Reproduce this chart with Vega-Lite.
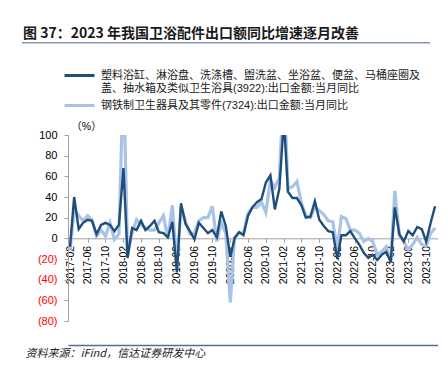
{
  "$schema": "https://vega.github.io/schema/vega-lite/v6.json",
  "background": "white",
  "padding": {"left": 22, "top": 27, "right": 0, "bottom": 0},
  "spacing": 20,
  "config": {
    "font": "Liberation Sans, Noto Sans CJK SC",
    "view": {"stroke": null}
  },
  "resolve": {"scale": {"color": "independent"}, "legend": {"color": "independent"}},
  "vconcat": [
    {
      "width": 408,
      "height": 1.5,
      "title": {
        "text": "图 37：2023 年我国卫浴配件出口额同比增速逐月改善",
        "anchor": "start",
        "fontSize": 14,
        "fontWeight": "bold",
        "font": "Noto Sans CJK SC",
        "color": "#1a1a1a",
        "baseline": "bottom",
        "offset": -13,
        "dx": 1
      },
      "data": {"values": [{"part": "heading underline"}]},
      "mark": {"type": "rect", "color": "#8497b8"},
      "encoding": {}
    },
    {
      "spacing": 2,
      "resolve": {"scale": {"color": "independent"}, "legend": {"color": "independent"}},
      "hconcat": [
        {
          "width": 1,
          "height": 1,
          "data": {"values": []},
          "mark": "rule",
          "encoding": {}
        },
        {
          "width": 370,
          "height": 186,
          "resolve": {"axis": {"x": "independent"}},
          "encoding": {
            "y": {
              "field": "v",
              "type": "quantitative",
              "scale": {"domain": [-80, 100], "nice": false},
              "axis": {
                "values": [-80, -60, -40, -20, 0, 20, 40, 60, 80, 100],
                "title": "（%）",
                "titleAngle": 0,
                "titleX": 18,
                "titleY": -4,
                "titleAlign": "center",
                "titleBaseline": "bottom",
                "titleFontWeight": "normal",
                "titleFontSize": 10.5,
                "titleColor": "#000000",
                "labelExpr": "datum.value < 0 ? '(' + abs(datum.value) + ')' : datum.label",
                "labelColor": {"condition": {"test": "datum.value < 0", "value": "#ff0000"}, "value": "#000000"},
                "labelFontSize": 11,
                "labelPadding": 7,
                "grid": false,
                "domainColor": "#a0a0a0",
                "tickColor": "#a0a0a0",
                "tickSize": 4
              }
            }
          },
          "layer": [
            {
              "data": {
                "values": [
                  {"m": "2017-02", "v": -12}, {"m": "2017-03", "v": 28}, {"m": "2017-04", "v": 22}, {"m": "2017-05", "v": 17}, {"m": "2017-06", "v": 22}, {"m": "2017-07", "v": 18}, {"m": "2017-08", "v": 2}, {"m": "2017-09", "v": 8}, {"m": "2017-10", "v": 2}, {"m": "2017-11", "v": 15}, {"m": "2017-12", "v": -1},
                  {"m": "2018-01", "v": 4}, {"m": "2018-02", "v": 160}, {"m": "2018-03", "v": -15}, {"m": "2018-04", "v": 5}, {"m": "2018-05", "v": 18}, {"m": "2018-06", "v": 13}, {"m": "2018-07", "v": 10}, {"m": "2018-08", "v": 8}, {"m": "2018-09", "v": 8}, {"m": "2018-10", "v": 15}, {"m": "2018-11", "v": 22}, {"m": "2018-12", "v": 0},
                  {"m": "2019-01", "v": 32}, {"m": "2019-02", "v": -28}, {"m": "2019-03", "v": 30}, {"m": "2019-04", "v": 16}, {"m": "2019-05", "v": 4}, {"m": "2019-06", "v": 5}, {"m": "2019-07", "v": 17}, {"m": "2019-08", "v": 20}, {"m": "2019-09", "v": 20}, {"m": "2019-10", "v": 31}, {"m": "2019-11", "v": -3}, {"m": "2019-12", "v": 15},
                  {"m": "2020-01", "v": 5}, {"m": "2020-02", "v": -62}, {"m": "2020-03", "v": 1}, {"m": "2020-04", "v": 5}, {"m": "2020-05", "v": 5}, {"m": "2020-06", "v": 24}, {"m": "2020-07", "v": 30}, {"m": "2020-08", "v": 30}, {"m": "2020-09", "v": 35}, {"m": "2020-10", "v": 25}, {"m": "2020-11", "v": 56}, {"m": "2020-12", "v": 49},
                  {"m": "2021-01", "v": 59}, {"m": "2021-02", "v": 150}, {"m": "2021-03", "v": 48}, {"m": "2021-04", "v": 50}, {"m": "2021-05", "v": 55}, {"m": "2021-06", "v": 34}, {"m": "2021-07", "v": 22}, {"m": "2021-08", "v": 20}, {"m": "2021-09", "v": 30}, {"m": "2021-10", "v": 27}, {"m": "2021-11", "v": 23}, {"m": "2021-12", "v": 17},
                  {"m": "2022-01", "v": 16}, {"m": "2022-02", "v": -10}, {"m": "2022-03", "v": 21}, {"m": "2022-04", "v": 19}, {"m": "2022-05", "v": 8}, {"m": "2022-06", "v": 8}, {"m": "2022-07", "v": 5}, {"m": "2022-08", "v": -3}, {"m": "2022-09", "v": 0}, {"m": "2022-10", "v": -3}, {"m": "2022-11", "v": -16}, {"m": "2022-12", "v": -13},
                  {"m": "2023-01", "v": -8}, {"m": "2023-02", "v": -22}, {"m": "2023-03", "v": 46}, {"m": "2023-04", "v": 3}, {"m": "2023-05", "v": -3}, {"m": "2023-06", "v": -11}, {"m": "2023-07", "v": -6}, {"m": "2023-08", "v": 1}, {"m": "2023-09", "v": -6}, {"m": "2023-10", "v": -7}, {"m": "2023-11", "v": 5}, {"m": "2023-12", "v": 10}
                ],
                "format": {"parse": {"m": "date:'%Y-%m'"}}
              },
              "mark": {"type": "line", "clip": true, "strokeWidth": 3.2},
              "encoding": {
                "x": {
                  "field": "m",
                  "type": "temporal",
                  "scale": {"domain": [{"year": 2017, "month": 1, "date": 18}, {"year": 2023, "month": 12, "date": 21}]},
                  "axis": {
                    "title": null,
                    "offset": -82.7,
                    "format": "%Y-%m",
                    "labelAngle": -90,
                    "labelFontSize": 10.5,
                    "labelColor": "#000000",
                    "labelPadding": 3,
                    "domainColor": "#a0a0a0",
                    "tickColor": "#a0a0a0",
                    "tickSize": 4,
                    "grid": false,
                    "values": [
                      {"year": 2017, "month": 2, "date": 1}, {"year": 2017, "month": 6, "date": 1}, {"year": 2017, "month": 10, "date": 1},
                      {"year": 2018, "month": 2, "date": 1}, {"year": 2018, "month": 6, "date": 1}, {"year": 2018, "month": 10, "date": 1},
                      {"year": 2019, "month": 2, "date": 1}, {"year": 2019, "month": 6, "date": 1}, {"year": 2019, "month": 10, "date": 1},
                      {"year": 2020, "month": 2, "date": 1}, {"year": 2020, "month": 6, "date": 1}, {"year": 2020, "month": 10, "date": 1},
                      {"year": 2021, "month": 2, "date": 1}, {"year": 2021, "month": 6, "date": 1}, {"year": 2021, "month": 10, "date": 1},
                      {"year": 2022, "month": 2, "date": 1}, {"year": 2022, "month": 6, "date": 1}, {"year": 2022, "month": 10, "date": 1},
                      {"year": 2023, "month": 2, "date": 1}, {"year": 2023, "month": 6, "date": 1}, {"year": 2023, "month": 10, "date": 1}
                    ]
                  }
                },
                "color": {
                  "datum": "钢铁制卫生器具及其零件(7324):出口金额:当月同比",
                  "type": "nominal"
                }
              }
            },
            {
              "data": {
                "values": [
                  {"m": "2017-02", "v": -8}, {"m": "2017-03", "v": 40}, {"m": "2017-04", "v": 9}, {"m": "2017-05", "v": 15}, {"m": "2017-06", "v": 18}, {"m": "2017-07", "v": 17}, {"m": "2017-08", "v": 4}, {"m": "2017-09", "v": 13}, {"m": "2017-10", "v": 15}, {"m": "2017-11", "v": 13}, {"m": "2017-12", "v": 7},
                  {"m": "2018-01", "v": 13}, {"m": "2018-02", "v": 68}, {"m": "2018-03", "v": -19}, {"m": "2018-04", "v": 10}, {"m": "2018-05", "v": 8}, {"m": "2018-06", "v": 17}, {"m": "2018-07", "v": 8}, {"m": "2018-08", "v": 12}, {"m": "2018-09", "v": 17}, {"m": "2018-10", "v": 6}, {"m": "2018-11", "v": 5}, {"m": "2018-12", "v": 1},
                  {"m": "2019-01", "v": 16}, {"m": "2019-02", "v": -33}, {"m": "2019-03", "v": 34}, {"m": "2019-04", "v": 14}, {"m": "2019-05", "v": 7}, {"m": "2019-06", "v": -1}, {"m": "2019-07", "v": 15}, {"m": "2019-08", "v": 10}, {"m": "2019-09", "v": 5}, {"m": "2019-10", "v": 8}, {"m": "2019-11", "v": 1}, {"m": "2019-12", "v": 26},
                  {"m": "2020-01", "v": 12}, {"m": "2020-02", "v": -18}, {"m": "2020-03", "v": 0}, {"m": "2020-04", "v": 6}, {"m": "2020-05", "v": 3}, {"m": "2020-06", "v": 22}, {"m": "2020-07", "v": 30}, {"m": "2020-08", "v": 35}, {"m": "2020-09", "v": 38}, {"m": "2020-10", "v": 54}, {"m": "2020-11", "v": 61}, {"m": "2020-12", "v": 28},
                  {"m": "2021-01", "v": 48}, {"m": "2021-02", "v": 115}, {"m": "2021-03", "v": 45}, {"m": "2021-04", "v": 39}, {"m": "2021-05", "v": 39}, {"m": "2021-06", "v": 32}, {"m": "2021-07", "v": 20}, {"m": "2021-08", "v": 21}, {"m": "2021-09", "v": 36}, {"m": "2021-10", "v": 18}, {"m": "2021-11", "v": 12}, {"m": "2021-12", "v": 7},
                  {"m": "2022-01", "v": 6}, {"m": "2022-02", "v": -20}, {"m": "2022-03", "v": 3}, {"m": "2022-04", "v": 3}, {"m": "2022-05", "v": 7}, {"m": "2022-06", "v": 0}, {"m": "2022-07", "v": -6}, {"m": "2022-08", "v": -14}, {"m": "2022-09", "v": -19}, {"m": "2022-10", "v": -16}, {"m": "2022-11", "v": -21}, {"m": "2022-12", "v": -16},
                  {"m": "2023-01", "v": -13}, {"m": "2023-02", "v": -23}, {"m": "2023-03", "v": 30}, {"m": "2023-04", "v": 4}, {"m": "2023-05", "v": -3}, {"m": "2023-06", "v": 7}, {"m": "2023-07", "v": 3}, {"m": "2023-08", "v": 11}, {"m": "2023-09", "v": 9}, {"m": "2023-10", "v": -3}, {"m": "2023-11", "v": 15}, {"m": "2023-12", "v": 31}
                ],
                "format": {"parse": {"m": "date:'%Y-%m'"}}
              },
              "mark": {"type": "line", "clip": true, "strokeWidth": 2.4},
              "encoding": {
                "x": {
                  "field": "m",
                  "type": "temporal",
                  "axis": {
                    "orient": "bottom",
                    "offset": 24,
                    "labels": false,
                    "ticks": false,
                    "grid": false,
                    "domainColor": "#4f6fa3",
                    "domainWidth": 1.5,
                    "title": "资料来源：iFind，信达证券研发中心",
                    "titleX": -43,
                    "titleY": 2.5,
                    "titleAlign": "left",
                    "titleBaseline": "top",
                    "titleAngle": 0,
                    "titleFont": "Noto Sans CJK SC",
                    "titleFontSize": 11,
                    "titleFontStyle": "italic",
                    "titleFontWeight": "normal",
                    "titleColor": "#222222"
                  }
                },
                "color": {
                  "datum": "塑料浴缸、淋浴盘、洗涤槽、盥洗盆、坐浴盆、便盆、马桶座圈及盖、抽水箱及类似卫生浴具(3922):出口金额:当月同比",
                  "type": "nominal",
                  "scale": {
                    "domain": ["塑料浴缸、淋浴盘、洗涤槽、盥洗盆、坐浴盆、便盆、马桶座圈及盖、抽水箱及类似卫生浴具(3922):出口金额:当月同比", "钢铁制卫生器具及其零件(7324):出口金额:当月同比"],
                    "range": ["#1f4e79", "#a9c3e8"]
                  },
                  "legend": {
                    "orient": "top",
                    "direction": "vertical",
                    "offset": 23,
                    "title": null,
                    "symbolType": "M-1.5,0L1.5,0",
                    "symbolSize": 400,
                    "symbolStrokeWidth": 3,
                    "labelFontSize": 11,
                    "labelColor": "#1a1a1a",
                    "labelLimit": 420,
                    "labelOffset": 10,
                    "rowPadding": -3,
                    "labelExpr": "indexof(datum.label, '3922') >= 0 ? ['塑料浴缸、淋浴盘、洗涤槽、盥洗盆、坐浴盆、便盆、马桶座圈及', '盖、抽水箱及类似卫生浴具(3922):出口金额:当月同比'] : datum.label"
                  }
                }
              }
            }
          ]
        }
      ]
    }
  ]
}
